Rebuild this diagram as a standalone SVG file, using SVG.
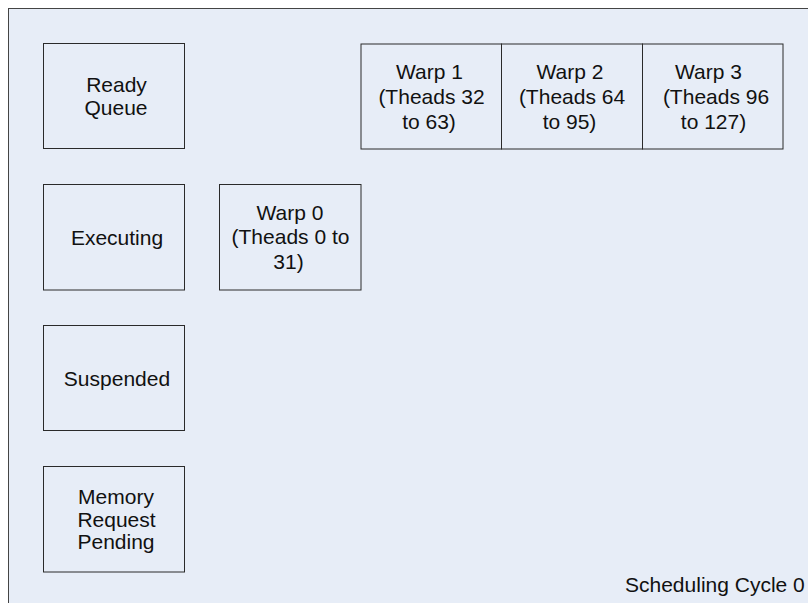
<svg xmlns="http://www.w3.org/2000/svg" width="808" height="603" viewBox="0 0 808 603">
<style>
.bg{fill:#e7edf7;stroke:#444;stroke-width:1}
.box{fill:#e7edf7;stroke:#2a2a2a;stroke-width:1}
text{font-family:"Liberation Sans",Arial,sans-serif;font-size:21px;fill:#111;text-anchor:middle}
</style>
<rect x="0" y="0" width="808" height="603" fill="#ffffff"/>
<rect class="bg" x="8.5" y="8.5" width="820" height="620"/>
<g id="ready-queue">
<rect class="box" x="43.5" y="43.5" width="141" height="105"/>
<text x="116.5" y="91.5">Ready</text>
<text x="116" y="114.5">Queue</text>
</g>
<g id="executing">
<rect class="box" x="43.5" y="184.5" width="141" height="105.5"/>
<text x="117" y="244.5">Executing</text>
</g>
<g id="suspended">
<rect class="box" x="43.5" y="325.5" width="141" height="105"/>
<text x="117" y="385.5">Suspended</text>
</g>
<g id="memory-request-pending">
<rect class="box" x="43.5" y="466.5" width="141" height="105.5"/>
<text x="116" y="504">Memory</text>
<text x="116.5" y="526.5">Request</text>
<text x="116" y="548.5">Pending</text>
</g>
<g id="warp0">
<rect class="box" x="219.5" y="184.5" width="141.5" height="105.5"/>
<text x="290" y="219.5">Warp 0</text>
<text x="290.5" y="244">(Theads 0 to</text>
<text x="288.5" y="268.5">31)</text>
</g>
<g id="warp1">
<rect class="box" x="361" y="44" width="140.5" height="105"/>
<text x="429.5" y="78.5">Warp 1</text>
<text x="431.5" y="104">(Theads 32</text>
<text x="429" y="129">to 63)</text>
</g>
<g id="warp2">
<rect class="box" x="501.5" y="44" width="141" height="105"/>
<text x="570" y="78.5">Warp 2</text>
<text x="572" y="104">(Theads 64</text>
<text x="569.5" y="129">to 95)</text>
</g>
<g id="warp3">
<rect class="box" x="642.5" y="44" width="140.5" height="105"/>
<text x="708.5" y="78.5">Warp 3</text>
<text x="716" y="104">(Theads 96</text>
<text x="713.5" y="129">to 127)</text>
</g>
<g id="connectors"></g>
<text x="625" y="591.5" style="text-anchor:start">Scheduling Cycle 0</text>
</svg>
